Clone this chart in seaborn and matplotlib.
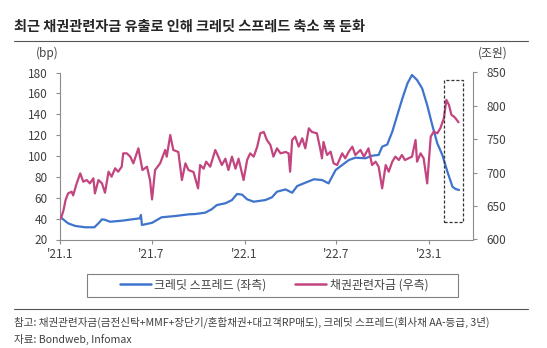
import matplotlib
matplotlib.use("Agg")
import matplotlib.pyplot as plt
import matplotlib.dates as mdates
from matplotlib.patches import Rectangle
from matplotlib.lines import Line2D
import pandas as pd
import seaborn as sns

# ---------------- data ----------------
spread_dates = ["2021-01-03", "2021-01-17", "2021-01-31", "2021-02-20", "2021-03-10", "2021-03-18",
                "2021-03-25", "2021-03-31", "2021-04-10", "2021-05-03", "2021-05-23", "2021-06-08",
                "2021-06-10", "2021-06-12", "2021-07-02", "2021-07-21", "2021-08-17", "2021-09-12",
                "2021-09-25", "2021-10-15", "2021-10-28", "2021-11-07", "2021-11-24", "2021-12-07",
                "2021-12-17", "2021-12-27", "2022-01-06", "2022-01-19", "2022-02-11", "2022-02-24",
                "2022-03-06", "2022-03-23", "2022-04-05", "2022-04-15", "2022-05-01", "2022-05-18",
                "2022-06-03", "2022-06-16", "2022-06-30", "2022-07-13", "2022-07-26", "2022-08-08",
                "2022-08-28", "2022-09-10", "2022-09-23", "2022-09-30", "2022-10-10", "2022-10-20",
                "2022-10-30", "2022-11-09", "2022-11-19", "2022-11-28", "2022-12-08", "2022-12-18",
                "2022-12-28", "2023-01-07", "2023-01-17", "2023-01-27", "2023-02-06", "2023-02-16",
                "2023-02-22", "2023-03-01"]
spread_bp = [41, 35.5, 33, 31.7, 31.7, 35.5,
             39.3, 38.9, 37, 38, 39.3, 40.3,
             43.5, 33.9, 36, 41.3, 42.5, 44.1,
             44.4, 45.7, 49, 53, 54.7, 57.8,
             63.6, 63, 58.5, 56.2, 57.8, 60.4,
             65.8, 68, 64.8, 71.2, 74.4, 77.7,
             77, 73.8, 86.6, 91.4, 96.1, 98.4,
             97.8, 100.3, 101, 108.9, 111, 123.3,
             139.3, 155.2, 169.6, 177.6, 172.8, 164.8,
             148.8, 129.7, 112.1, 101, 84.9, 70.6,
             68.4, 67.4]

fund_dates = ["2021-01-03", "2021-01-08", "2021-01-12", "2021-01-17", "2021-01-24", "2021-01-27",
              "2021-02-03", "2021-02-10", "2021-02-16", "2021-02-23", "2021-03-01", "2021-03-08",
              "2021-03-11", "2021-03-18", "2021-03-25", "2021-03-31", "2021-04-07", "2021-04-13",
              "2021-04-20", "2021-04-26", "2021-05-03", "2021-05-06", "2021-05-13", "2021-05-20",
              "2021-05-26", "2021-06-05", "2021-06-13", "2021-06-22", "2021-06-28", "2021-07-02",
              "2021-07-08", "2021-07-18", "2021-07-28", "2021-07-31", "2021-08-07", "2021-08-13",
              "2021-08-23", "2021-08-30", "2021-09-06", "2021-09-12", "2021-09-22", "2021-10-01",
              "2021-10-05", "2021-10-12", "2021-10-17", "2021-10-25", "2021-11-04", "2021-11-10",
              "2021-11-17", "2021-11-24", "2021-11-30", "2021-12-07", "2021-12-14", "2021-12-20",
              "2021-12-30", "2022-01-06", "2022-01-12", "2022-01-19", "2022-01-26", "2022-02-01",
              "2022-02-08", "2022-02-14", "2022-02-21", "2022-02-27", "2022-03-06", "2022-03-13",
              "2022-03-23", "2022-03-29", "2022-04-01", "2022-04-05", "2022-04-11", "2022-04-18",
              "2022-04-25", "2022-05-01", "2022-05-08", "2022-05-14", "2022-05-24", "2022-05-31",
              "2022-06-03", "2022-06-06", "2022-06-13", "2022-06-20", "2022-06-26", "2022-07-03",
              "2022-07-13", "2022-07-19", "2022-07-26", "2022-08-02", "2022-08-08", "2022-08-18",
              "2022-08-25", "2022-09-03", "2022-09-10", "2022-09-17", "2022-09-23", "2022-09-30",
              "2022-10-07", "2022-10-13", "2022-10-20", "2022-10-26", "2022-11-02", "2022-11-08",
              "2022-11-14", "2022-11-21", "2022-11-28", "2022-12-05", "2022-12-08", "2022-12-15",
              "2022-12-21", "2022-12-28", "2023-01-04", "2023-01-10", "2023-01-17", "2023-01-23",
              "2023-01-30", "2023-02-04", "2023-02-09", "2023-02-14", "2023-02-19", "2023-02-22",
              "2023-02-28"]
fund_trillion_won = [631.7, 644, 659, 669, 671.6, 666,
                     684, 699, 686.5, 689, 684, 691.6,
                     669, 689, 684, 670, 701.5, 694,
                     706.6, 701.5, 709, 729, 729, 724,
                     714, 736.5, 704, 709, 689, 660,
                     704, 714, 734, 724, 756.4, 734,
                     731, 689, 714, 704, 701, 676.6,
                     711.5, 706, 716.5, 709, 734, 724,
                     711.5, 721, 704, 724, 706, 721,
                     689, 719, 729, 724, 739, 759,
                     761, 749, 741.5, 724, 736.5, 729,
                     731, 729, 701.5, 749, 754, 739,
                     751.5, 736.5, 766.5, 761, 759, 734,
                     721.5, 746, 726.5, 731.5, 714, 711.5,
                     729, 721.5, 731.5, 739, 726.5, 734,
                     724, 736.5, 711.5, 716.5, 709, 676.6,
                     711.5, 701.5, 716.5, 724, 719, 726.5,
                     719, 721.5, 724, 749, 716.5, 729,
                     721.5, 684, 754, 761.5, 759, 766.5,
                     781.5, 809, 801.5, 786.5, 784, 781.5,
                     775.5]

tick_dates = ["2021-01-01", "2021-07-01", "2022-01-01", "2022-07-01", "2023-01-01"]
tick_labels = ["'21.1", "'21.7", "'22.1", "'22.7", "'23.1"]
left_ticks = [20, 40, 60, 80, 100, 120, 140, 160, 180]
right_ticks = [600, 650, 700, 750, 800, 850]

title = "최근 채권관련자금 유출로 인해 크레딧 스프레드 축소 폭 둔화"
legend_labels = ["크레딧 스프레드 (좌측)", "채권관련자금 (우측)"]
note = "참고: 채권관련자금(금전신탁+MMF+장단기/혼합채권+대고객RP매도), 크레딧 스프레드(회사채 AA-등급, 3년)"
source = "자료: Bondweb, Infomax"

# ---------------- style ----------------
sns.set_style("white")
plt.rcParams['font.family'] = ['Noto Sans CJK KR', 'DejaVu Sans']

BLUE = "#3F74CC"
MAGENTA = "#C2457F"
AXIS = "#8c8c8c"
TXT = "#404040"

df_s = pd.DataFrame({"date": pd.to_datetime(spread_dates), "v": spread_bp})
df_f = pd.DataFrame({"date": pd.to_datetime(fund_dates), "v": fund_trillion_won})

fig = plt.figure(figsize=(5.47, 3.48), dpi=100)
W, H = 547, 348
ax = fig.add_axes([60 / W, (H - 239.5) / H, (472.7 - 60) / W, (239.5 - 72.5) / H])
ax2 = ax.twinx()

sns.lineplot(data=df_s, x="date", y="v", ax=ax, color=BLUE, lw=1.6, zorder=3)
sns.lineplot(data=df_f, x="date", y="v", ax=ax2, color=MAGENTA, lw=1.6, zorder=2)

xmin, xmax = pd.Timestamp("2021-01-01"), pd.Timestamp("2023-03-28")
ax.set_xlim(xmin, xmax)
ax.set_ylim(20, 180)
ax2.set_ylim(600, 850)
ax.set_yticks(left_ticks)
ax2.set_yticks(right_ticks)
ax.set_xticks(pd.to_datetime(tick_dates))
ax.set_xticklabels(tick_labels)
for a in (ax, ax2):
    a.set_xlabel("")
    a.set_ylabel("")
    a.grid(False)
    for s in a.spines.values():
        s.set_color(AXIS)
        s.set_linewidth(0.8)
    a.spines['top'].set_visible(False)
ax.spines['right'].set_visible(False)
ax2.spines['left'].set_visible(False)
ax2.spines['bottom'].set_visible(False)

ax.tick_params(axis='y', which='both', direction='out', length=3, width=0.8, color=AXIS,
               labelsize=8.5, labelcolor=TXT, pad=6, left=True)
ax.tick_params(axis='x', which='both', direction='out', length=3, width=0.8, color=AXIS,
               labelsize=8.5, labelcolor=TXT, pad=3, bottom=True)
ax2.tick_params(axis='y', which='both', direction='out', length=3, width=0.8, color=AXIS,
                labelsize=8.5, labelcolor=TXT, pad=7, right=True)

# dashed highlight box (annotation)
box_x0 = mdates.date2num(pd.Timestamp("2023-01-31"))
box_x1 = mdates.date2num(pd.Timestamp("2023-03-09"))
ax2.add_patch(Rectangle((box_x0, 626.5), box_x1 - box_x0, 838.5 - 626.5, fill=False,
                        ls=(0, (2.5, 1.5)), lw=0.9, ec="#333333", zorder=5))

# axis unit labels
fig.text(47 / W, 1 - 53 / H, "(bp)", ha='center', va='center', fontsize=8.5, color=TXT)
fig.text(493 / W, 1 - 53 / H, "(조원)", ha='center', va='center', fontsize=8.5, color=TXT)

# title and separator lines
fig.text(14 / W, 1 - 27 / H, title, ha='left', va='center', fontsize=10.2, fontweight='bold', color="#262626")
fig.add_artist(Line2D([14 / W, 528 / W], [1 - 41 / H, 1 - 41 / H], color="#555555", lw=0.8))
fig.add_artist(Line2D([14 / W, 528 / W], [1 - 309 / H, 1 - 309 / H], color="#555555", lw=0.8))

# legend with external frame
fig.add_artist(Rectangle((87 / W, 1 - 296.6 / H), (458 - 87) / W, (296.6 - 273.5) / H,
                         transform=fig.transFigure, fill=False, ec="#808080", lw=0.8))
handles = [Line2D([], [], color=BLUE, lw=1.8), Line2D([], [], color=MAGENTA, lw=1.8)]
fig.legend(handles, legend_labels, loc='center', bbox_to_anchor=(274 / W, 1 - 285 / H), ncol=2,
           frameon=False, fontsize=8.6, handlelength=2.6, handletextpad=0.3, columnspacing=2.4,
           labelcolor=TXT)

# notes
fig.text(14 / W, 1 - 322 / H, note, ha='left', va='center', fontsize=7.6, color=TXT)
fig.text(14 / W, 1 - 339 / H, source, ha='left', va='center', fontsize=7.6, color=TXT)

fig.savefig("out.png", dpi=100)
